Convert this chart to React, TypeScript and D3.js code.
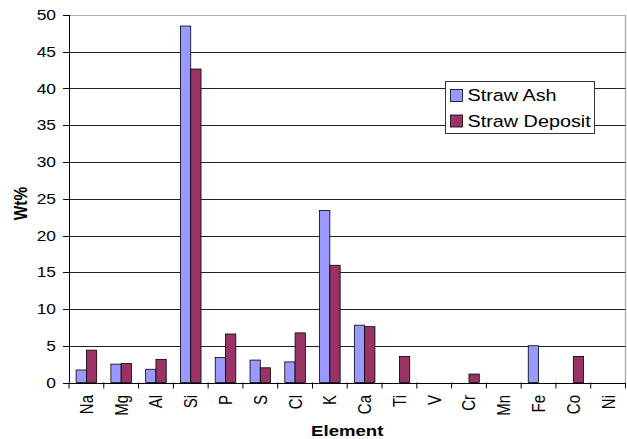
import React from "react";
import * as d3 from "d3";

const elements = ["Na", "Mg", "Al", "Si", "P", "S", "Cl", "K", "Ca", "Ti", "V", "Cr", "Mn", "Fe", "Co", "Ni"];
const strawAsh = [1.7, 2.5, 1.8, 48.5, 3.4, 3.05, 2.8, 23.4, 7.8, 0, 0, 0, 0, 5.0, 0, 0];
const strawDeposit = [4.4, 2.6, 3.15, 42.65, 6.6, 2.0, 6.75, 15.95, 7.6, 3.55, 0, 1.15, 0, 0, 3.55, 0];
const yTicks = [0, 5, 10, 15, 20, 25, 30, 35, 40, 45, 50];
const seriesNames = ["Straw Ash", "Straw Deposit"];
const seriesColors = ["#9999FF", "#993366"];

const W = 627;
const H = 439;
const plot = { left: 69, right: 625.5, top: 15, bottom: 382.5 };
const SX = 1.2; // horizontal text stretch
const FONT = "Arial, 'Liberation Sans', sans-serif";

export default function App() {
  const x = d3.scaleBand<string>().domain(elements).range([plot.left, plot.right]).paddingInner(0).paddingOuter(0);
  const y = d3.scaleLinear().domain([0, 50]).range([plot.bottom, plot.top]);
  const bw = x.bandwidth() * 0.296;
  const series = [strawAsh, strawDeposit];

  return (
    <svg width={W} height={H} style={{ position: "absolute", left: 0, top: 0, background: "#fff" }} fontFamily={FONT}>
      <rect x={0} y={0} width={W} height={H} fill="#fff" />
      {/* plot frame */}
      <line x1={plot.left} x2={plot.right} y1={plot.top + 0.5} y2={plot.top + 0.5} stroke="#b0b0b0" strokeWidth={1} />
      <line x1={plot.right} x2={plot.right} y1={plot.top} y2={plot.bottom} stroke="#b0b0b0" strokeWidth={1.5} />
      {/* gridlines */}
      {yTicks.filter((t) => t > 0 && t < 50).map((t) => (
        <line key={t} x1={plot.left} x2={plot.right} y1={Math.round(y(t)) + 0.5} y2={Math.round(y(t)) + 0.5} stroke="#222" strokeWidth={1} />
      ))}
      {/* bars */}
      {series.map((vals, si) =>
        vals.map((v, i) => {
          if (v <= 0) return null;
          const cx = (x(elements[i]) as number) + x.bandwidth() / 2;
          const bx = si === 0 ? cx - bw : cx;
          return (
            <rect key={`${si}-${i}`} x={bx} y={y(v)} width={bw} height={y(0) - y(v)} fill={seriesColors[si]} stroke="#000" strokeWidth={0.8} />
          );
        })
      )}
      {/* y axis */}
      <line x1={plot.left + 0.5} x2={plot.left + 0.5} y1={plot.top} y2={plot.bottom} stroke="#000" strokeWidth={1} />
      {yTicks.map((t) => (
        <g key={t}>
          <line x1={plot.left - 6} x2={plot.left} y1={Math.round(y(t)) + 0.5} y2={Math.round(y(t)) + 0.5} stroke="#000" strokeWidth={1} />
          <text transform={`translate(56,${y(t)}) scale(${SX},1)`} textAnchor="end" dy="0.36em" fontSize={14.5} fill="#000">
            {t}
          </text>
        </g>
      ))}
      {/* x axis */}
      <line x1={plot.left} x2={plot.right} y1={Math.round(y(0)) + 0.5} y2={Math.round(y(0)) + 0.5} stroke="#000" strokeWidth={1} />
      {elements.concat([""]).map((_, i) => {
        const tx = plot.left + i * x.bandwidth();
        return <line key={i} x1={tx} x2={tx} y1={y(0)} y2={y(0) + 6} stroke="#000" strokeWidth={1} />;
      })}
      {elements.map((e) => {
        const cx = (x(e) as number) + x.bandwidth() / 2;
        return (
          <text key={e} transform={`translate(${cx},395) scale(${SX},1) rotate(-90)`} textAnchor="end" dy="0.36em" fontSize={15} fill="#000">
            {e}
          </text>
        );
      })}
      {/* axis titles */}
      <text transform={`translate(${(plot.left + plot.right) / 2},436) scale(${SX},1)`} textAnchor="middle" fontSize={15.5} fontWeight="bold" fill="#000">
        Element
      </text>
      <text transform={`translate(20,203.5) scale(${SX},1) rotate(-90)`} textAnchor="middle" dy="0.36em" fontSize={15.5} fontWeight="bold" fill="#000">
        Wt%
      </text>
      {/* legend */}
      <rect x={445.5} y={81.5} width={149} height={52} fill="#fff" stroke="#333" strokeWidth={1} />
      {seriesNames.map((n, i) => (
        <g key={n}>
          <rect x={450.5} y={89.5 + i * 25.5} width={12} height={12} fill={seriesColors[i]} stroke="#000" strokeWidth={0.8} />
          <text transform={`translate(467.5,${95.5 + i * 25.5}) scale(${SX},1)`} dy="0.36em" fontSize={16.5} fill="#000">
            {n}
          </text>
        </g>
      ))}
    </svg>
  );
}
